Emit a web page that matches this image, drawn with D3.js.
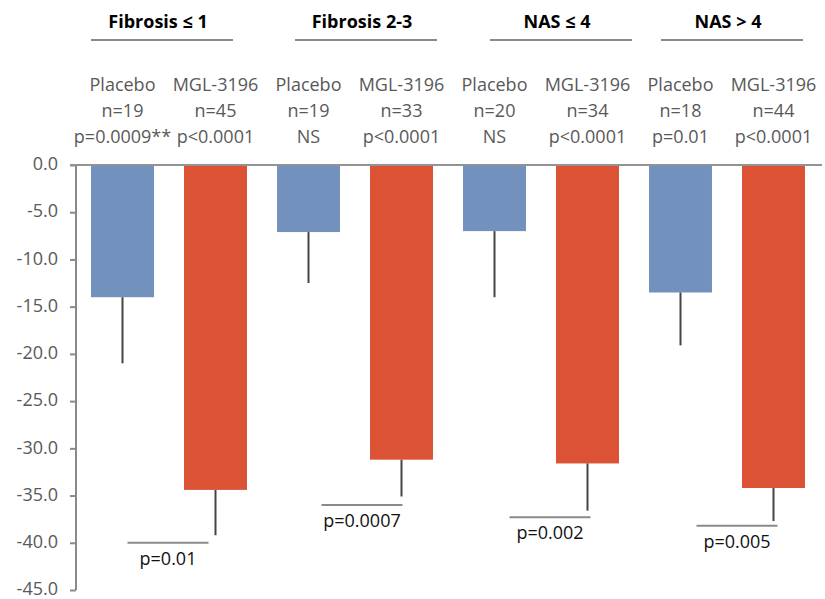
<!DOCTYPE html>
<html>
<head>
<meta charset="utf-8">
<script src="https://cdn.jsdelivr.net/npm/d3@7"></script>
<style>
  html, body { margin: 0; padding: 0; background: #fff; }
  svg { display: block; font-family: "Open Sans", "Liberation Sans", sans-serif; }
</style>
</head>
<body>
<svg id="chart" width="825" height="599"></svg>
<script>
// Subgroups and treatment arms
const groups = ["Fibrosis ≤ 1", "Fibrosis 2-3", "NAS ≤ 4", "NAS > 4"];
const arms = ["Placebo", "MGL-3196"];

// Mean change (%) and SD for each arm, per subgroup
const placeboMean = [-14.0, -7.1, -7.0, -13.5];
const placeboSD   = [7.0, 5.4, 7.0, 5.6];
const mglMean     = [-34.4, -31.2, -31.6, -34.2];
const mglSD       = [4.8, 3.9, 5.0, 3.5];

// Sample sizes and within-arm p values
const placeboN = [19, 19, 20, 18];
const mglN     = [45, 33, 34, 44];
const placeboP = ["p=0.0009**", "NS", "NS", "p=0.01"];
const mglP     = ["p<0.0001", "p<0.0001", "p<0.0001", "p<0.0001"];

// Between-arm comparison and the level of its bracket
const betweenP = ["p=0.01", "p=0.0007", "p=0.002", "p=0.005"];
const bracketLevel = [-40.0, -36.0, -37.3, -38.2];

// Axis ticks
const yTicks = [0, -5, -10, -15, -20, -25, -30, -35, -40, -45];

const colors = { "Placebo": "#7391BD", "MGL-3196": "#DB5234" };

// One bar per arm per subgroup
const bars = [];
groups.forEach((g, i) => {
  bars.push({ key: g + "|Placebo", group: i, arm: "Placebo", mean: placeboMean[i], sd: placeboSD[i], n: placeboN[i], p: placeboP[i] });
  bars.push({ key: g + "|MGL-3196", group: i, arm: "MGL-3196", mean: mglMean[i], sd: mglSD[i], n: mglN[i], p: mglP[i] });
});

(function draw() {
  const svg = d3.select("#chart");
  const plotLeft = 76, plotRight = 820, plotTop = 165, plotBottom = 590;

  // Hand-placed nudges (px) for the title blocks and the comparison brackets
  const titleShift = [-11, 7, 16, 1];
  const bracketShift = [-7, 1, 3, 4];
  const titleRuleWidth = 142;

  const x = d3.scaleBand()
    .domain(bars.map(d => d.key))
    .range([plotLeft, plotRight])
    .paddingInner(0.323)
    .paddingOuter(0.1615);

  const y = d3.scaleLinear().domain([0, -45]).range([plotTop, plotBottom]);

  const gray = "#8a8a8a";
  const textGray = "#595959";

  // Bars
  svg.append("g").selectAll("rect")
    .data(bars)
    .join("rect")
    .attr("x", d => x(d.key))
    .attr("y", y(0))
    .attr("width", x.bandwidth())
    .attr("height", d => y(d.mean) - y(0))
    .attr("fill", d => colors[d.arm]);

  // Error bars (lower side only)
  svg.append("g").selectAll("line")
    .data(bars)
    .join("line")
    .attr("x1", d => x(d.key) + x.bandwidth() / 2)
    .attr("x2", d => x(d.key) + x.bandwidth() / 2)
    .attr("y1", d => y(d.mean))
    .attr("y2", d => y(d.mean - d.sd))
    .attr("stroke", "#4a4242")
    .attr("stroke-width", 2);

  // Y axis
  const yAxis = d3.axisLeft(y)
    .tickValues(yTicks)
    .tickSize(6)
    .tickPadding(12)
    .tickFormat(d => d.toFixed(1));

  const ag = svg.append("g")
    .attr("transform", `translate(${plotLeft},0)`)
    .call(yAxis);
  ag.select(".domain").remove();
  ag.append("line")
    .attr("x1", 0).attr("x2", 0)
    .attr("y1", y(0)).attr("y2", y(-45))
    .attr("stroke", gray).attr("stroke-width", 2);
  ag.selectAll(".tick line").attr("stroke", gray).attr("stroke-width", 2);
  ag.selectAll(".tick text")
    .attr("fill", textGray)
    .attr("font-size", 18)
    .attr("dy", "0.26em")
    .attr("font-family", "'Open Sans', sans-serif");

  // Zero baseline across the plot
  svg.append("line")
    .attr("x1", plotLeft - 6).attr("x2", plotRight + 2)
    .attr("y1", y(0)).attr("y2", y(0))
    .attr("stroke", "#939393").attr("stroke-width", 2);

  // Arm header labels above each bar
  const header = svg.append("g")
    .attr("fill", textGray)
    .attr("font-size", 18)
    .attr("text-anchor", "middle");
  bars.forEach(d => {
    const cx = x(d.key) + x.bandwidth() / 2;
    [d.arm, "n=" + d.n, d.p].forEach((t, j) => {
      header.append("text")
        .attr("x", cx)
        .attr("y", 91 + j * 26)
        .text(t);
    });
  });

  // Subgroup titles with underline
  const tg = svg.append("g");
  groups.forEach((g, i) => {
    const x0 = x(g + "|Placebo");
    const x1 = x(g + "|MGL-3196") + x.bandwidth();
    const cx = (x0 + x1) / 2 + titleShift[i];
    tg.append("text")
      .attr("x", cx)
      .attr("y", 28)
      .attr("text-anchor", "middle")
      .attr("font-size", 18)
      .attr("font-weight", "bold")
      .attr("fill", "#000")
      .text(g);
    tg.append("line")
      .attr("x1", cx - titleRuleWidth / 2 + 4).attr("x2", cx + titleRuleWidth / 2 + 4)
      .attr("y1", 40).attr("y2", 40)
      .attr("stroke", gray).attr("stroke-width", 2);
  });

  // Between-arm p value brackets
  const bg = svg.append("g");
  groups.forEach((g, i) => {
    const mx = x(g + "|MGL-3196") + x.bandwidth() / 2 + bracketShift[i];
    const x0 = mx - 81, x1 = mx;
    const yy = y(bracketLevel[i]);
    bg.append("line")
      .attr("x1", x0).attr("x2", x1)
      .attr("y1", yy).attr("y2", yy)
      .attr("stroke", gray).attr("stroke-width", 2);
    bg.append("text")
      .attr("x", (x0 + x1) / 2)
      .attr("y", yy + 22)
      .attr("text-anchor", "middle")
      .attr("font-size", 18)
      .attr("fill", "#111")
      .text(betweenP[i]);
  });
})();
</script>
</body>
</html>
